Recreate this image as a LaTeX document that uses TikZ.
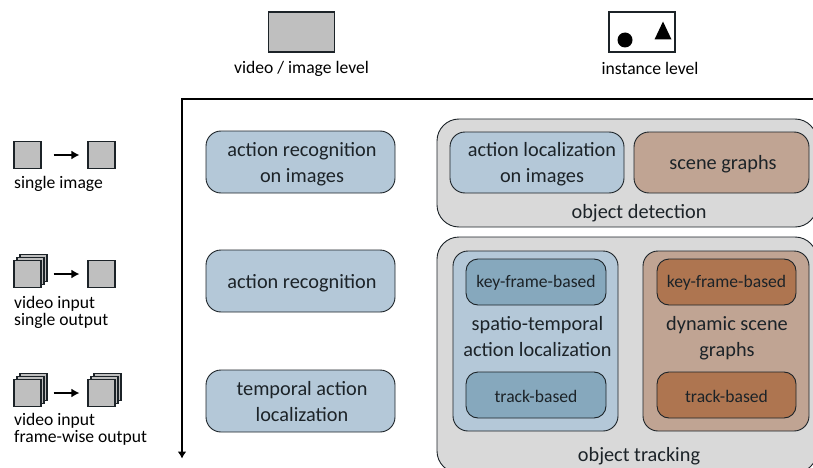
\documentclass[tikz,border=0pt]{standalone}
\usepackage{fontspec}
\setmainfont{Carlito}
\usetikzlibrary{arrows.meta, positioning}

\definecolor{lightblue}{HTML}{B4C8D8}
\definecolor{darkblue}{HTML}{86A8BD}
\definecolor{lightbrown}{HTML}{C0A493}
\definecolor{darkbrown}{HTML}{AE7550}
\definecolor{panelgray}{HTML}{D9D9D9}
\definecolor{framegray}{HTML}{BFBFBF}
\definecolor{edgedark}{HTML}{1C2328}

\newcommand{\bigtext}{\fontsize{20.3}{26}\selectfont}
\newcommand{\smalltext}{\fontsize{17.6}{16.7}\selectfont}

\tikzset{
    frame/.style={rectangle, draw=edgedark, line width=1.1pt, fill=framegray, inner sep=0pt,
        minimum width=27pt, minimum height=27pt},
    caption/.style={font=\smalltext, align=left, inner sep=0pt, anchor=north west},
    level/.style={font=\smalltext, inner sep=0pt},
    box/.style={rectangle, rounded corners=15pt, draw=edgedark, line width=0.9pt, inner sep=0pt},
    task/.style={box, fill=lightblue, minimum width=189pt, minimum height=62pt},
    panel/.style={box, fill=panelgray, rounded corners=22pt},
    method/.style={box, rounded corners=12pt, minimum width=140pt, minimum height=46pt},
    bigname/.style={inner sep=0pt, align=center, font=\bigtext, text=edgedark, yshift=-2pt},
    smallname/.style={inner sep=0pt, align=center, font=\smalltext, text=edgedark, yshift=-1pt},
    flow/.style={-{Latex[length=8pt,width=9pt]}, line width=1.8pt},
}

\begin{document}
\begin{tikzpicture}[x=1pt, y=-1pt]
    \useasboundingbox (0,0) rectangle (813,468);

    % level headers
    \node[frame, line width=1.5pt, minimum width=66pt, minimum height=40pt] (videolevel) at (301.5,32) {};
    \node[level] (videotext) at (301.5,68.5) {video / image level};
    \node[frame, line width=1.5pt, fill=white, minimum width=66pt, minimum height=40pt] (instlevel) at (642,32) {};
    \node[level] (insttext) at (650,68.5) {instance level};
    \node[circle, fill=black, inner sep=0pt, minimum size=15pt] (instcirc) at (625,40) {};
    \fill[black] (654.5,39.5) -- (671.5,39.5) -- (663,21.5) -- cycle;

    % axes
    \coordinate (axisright) at (815,99);
    \coordinate (axiscorner) at (182,99);
    \coordinate (axisbottom) at (182,458.5);
    \draw[-{Latex[length=7pt,width=9pt]}, line width=1.6pt] (axisright) -- (axiscorner) -- (axisbottom);

    % single image
    \node[frame] (in1) at (27.5,155) {};
    \node[frame] (out1) at (101.5,155) {};
    \draw[flow, shorten <=12pt, shorten >=8pt] (in1) -- (out1);
    \node[caption] (cap1) at (14,176) {single image};

    % video input, single output
    \node[frame] (in2c) at (33.5,268) {};
    \node[frame] (in2b) at (30.5,271) {};
    \node[frame] (in2a) at (27.5,274) {};
    \node[frame] (out2) at (101.5,274) {};
    \draw[flow, shorten <=12pt, shorten >=8pt] (in2a) -- (out2);
    \node[caption] (cap2) at (14,296.5) {video input\\single output};

    % video input, frame-wise output
    \node[frame] (in3c) at (33.5,387) {};
    \node[frame] (in3b) at (30.5,390) {};
    \node[frame] (in3a) at (27.5,393) {};
    \node[frame] (out3c) at (107.5,387) {};
    \node[frame] (out3b) at (104.5,390) {};
    \node[frame] (out3a) at (101.5,393) {};
    \draw[flow, shorten <=12pt, shorten >=8pt] (in3a) -- (out3a);
    \node[caption] (cap3) at (14,413) {video input\\frame-wise output};

    % video / image level tasks
    \node[task] (recimg) at (300.5,162) {};
    \node[bigname, xshift=1.5pt] (recimgname) at (recimg) {action recognition\\on images};
    \node[task] (rec) at (300.5,281) {};
    \node[bigname, xshift=1.5pt] (recname) at (rec) {action recognition};
    \node[task] (temporal) at (300.5,401) {};
    \node[bigname, xshift=1.5pt, yshift=1pt] (temporalname) at (temporal) {temporal action\\localization};

    % object detection
    \node[panel, minimum width=380pt, minimum height=108pt] (detection) at (627,173) {};
    \node[bigname] (detectionname) at (639,211) {object detection};
    \node[box, fill=lightblue, minimum width=174pt, minimum height=61pt] (locimg) at (537,162.5) {};
    \node[bigname] (locimgname) at (542,162.5) {action localization\\on images};
    \node[box, fill=lightbrown, minimum width=175pt, minimum height=61pt] (scene) at (721.5,162.5) {};
    \node[bigname, xshift=1.5pt] (scenename) at (scene) {scene graphs};

    % object tracking
    \node[panel, minimum width=380pt, minimum height=236pt] (tracking) at (627,355) {};
    \node[bigname] (trackingname) at (639,454) {object tracking};
    \node[box, fill=lightblue, minimum width=165pt, minimum height=180pt] (stal) at (535.5,341) {};
    \node[bigname] (stalname) at (537.5,334.5) {spatio-temporal\\action localization};
    \node[box, fill=lightbrown, minimum width=166pt, minimum height=180pt] (dsg) at (726,341) {};
    \node[bigname] (dsgname) at (727,336) {dynamic scene\\graphs};
    \node[method, fill=darkblue] (stalkey) at (536,282) {};
    \node[smallname] (stalkeyname) at (stalkey) {key-frame-based};
    \node[method, fill=darkblue] (staltrack) at (536,395) {};
    \node[smallname] (staltrackname) at (staltrack) {track-based};
    \node[method, fill=darkbrown, minimum width=139pt] (dsgkey) at (726.5,282) {};
    \node[smallname] (dsgkeyname) at (dsgkey) {key-frame-based};
    \node[method, fill=darkbrown, minimum width=139pt] (dsgtrack) at (726.5,395) {};
    \node[smallname] (dsgtrackname) at (dsgtrack) {track-based};
\end{tikzpicture}
\end{document}
